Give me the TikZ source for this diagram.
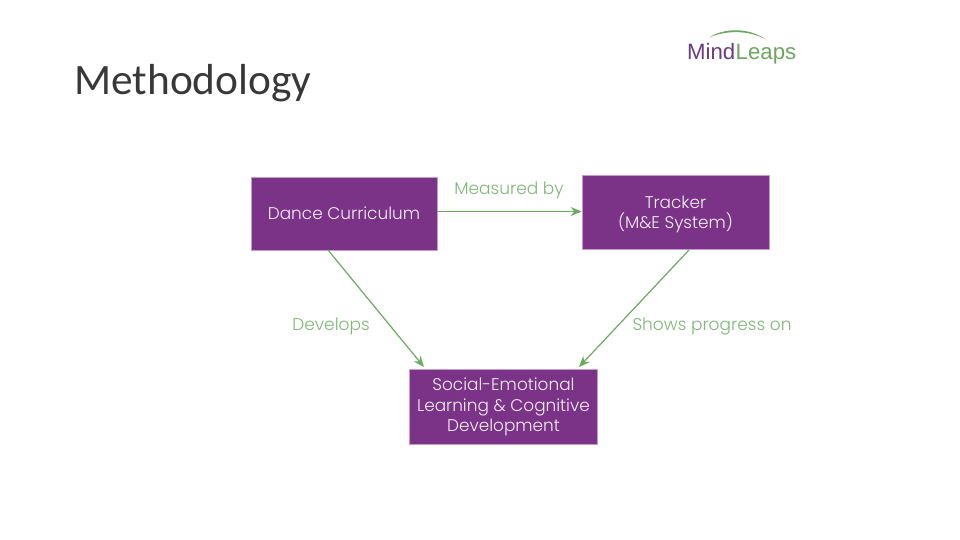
\documentclass[tikz,border=0pt]{standalone}
\usepackage{fontspec}
\setmainfont{Poppins}[UprightFont=* Light]
\newfontfamily\titlefont{Carlito}
\newfontfamily\logofont{Liberation Sans}
\definecolor{boxpurple}{HTML}{7A3386}
\definecolor{boxedge}{HTML}{C79BD0}
\definecolor{linkgreen}{HTML}{6BAA60}
\definecolor{labelgreen}{HTML}{7FB777}
\definecolor{logopurple}{HTML}{6B3A80}
\definecolor{logogreen}{HTML}{6FA55F}
\usetikzlibrary{arrows.meta}
\tikzset{
  x=1pt,y=-1pt,
  purplebox/.style={draw=boxedge,line width=.6pt,fill=boxpurple,text=white!92!boxpurple,align=center,inner sep=0pt,font=\fontsize{16.9}{20.5}\selectfont},
  linkarrow/.style={draw=linkgreen,line width=1.2pt,-{Stealth[length=11pt,width=9pt]},shorten >=0pt},
  linklabel/.style={text=labelgreen,inner sep=0pt,font=\fontsize{17}{20}\selectfont},
}
\begin{document}
\begin{tikzpicture}
\useasboundingbox[fill=white] (0,0) rectangle (960,540);
\node[anchor=base west,inner sep=0pt,font=\titlefont\fontsize{43.4}{43.4}\selectfont,text=black!78] (title) at (74,95) {Methodology};
\node[purplebox,minimum width=186pt,minimum height=73pt] (dance) at (344,213.5) {Dance Curriculum};
\node[purplebox,minimum width=187pt,minimum height=74pt,text depth=0pt,yshift=0pt] (tracker) at (675.5,212.5) {\vphantom{T}\\[-20.5pt]Tracker\\(M\&E System)};
\node[purplebox,minimum width=188pt,minimum height=75pt] (social) at (503.5,406.5) {\rule{0pt}{13.5pt}Social-Emotional\\Learning \& Cognitive\\Development};
\coordinate (da) at (328,250);
\coordinate (sa) at (424,367);
\coordinate (ta) at (689,250);
\coordinate (sb) at (579,367);
\draw[linkarrow] (dance.east |- 0,211.5) -- (tracker.west |- 0,211.5);
\draw[linkarrow] (da) -- (sa);
\draw[linkarrow] (ta) -- (sb);
\node[linklabel] (measured) at (509,190) {Measured by};
\node[linklabel] (develops) at (331,326) {Develops};
\node[linklabel] (shows) at (712,326) {Shows progress on};
\node[anchor=base west,inner sep=0pt,font=\logofont\fontsize{22.2}{22.2}\selectfont,text=logopurple] (mind) at (687,60) {Mind};
\node[anchor=base west,inner sep=0pt,font=\logofont\fontsize{22.2}{22.2}\selectfont,text=logogreen] (leaps) at (mind.base east) {Leaps};
\fill[logogreen] (709,37.5) .. controls (724,28) and (748,27) .. (766,39.5) .. controls (748,29.5) and (725,30.5) .. (709,37.5) -- cycle;
\end{tikzpicture}
\end{document}
